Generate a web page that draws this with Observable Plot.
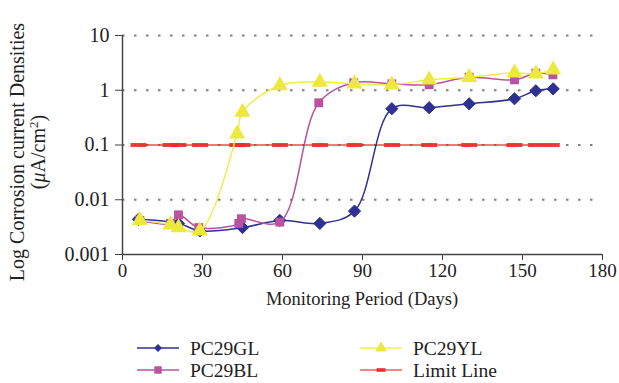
<!DOCTYPE html>
<html>
<head>
<meta charset="utf-8">
<script src="https://cdn.jsdelivr.net/npm/d3@7"></script>
<script src="https://cdn.jsdelivr.net/npm/@observablehq/plot@0.6"></script>
<style>
  body { margin: 0; background: #fff; font-family: "Liberation Serif", "DejaVu Serif", serif; }
  #wrap { position: relative; width: 619px; height: 383px; }
</style>
</head>
<body>
<div id="wrap"></div>
<script>
// ---- data ----
const glDays = [6, 21, 29, 45, 59, 74, 87, 101, 115, 130, 147, 155, 161.5];
const glVals = [0.0044, 0.0037, 0.0027, 0.0031, 0.0042, 0.0037, 0.0062, 0.46, 0.48, 0.565, 0.70, 0.98, 1.06];

const blDays = [6.5, 18, 21, 28.6, 43.6, 44.6, 59, 73.6, 86.7, 101, 115, 130, 147, 155, 161.4];
const blVals = [0.0042, 0.0037, 0.0053, 0.0031, 0.0037, 0.0045, 0.0039, 0.59, 1.37, 1.31, 1.26, 1.73, 1.55, 2.05, 1.91];

const ylDays = [6.5, 18, 21, 29, 43, 45, 59, 74, 87, 101, 115, 130, 147, 155, 161.5];
const ylVals = [0.0042, 0.0035, 0.0031, 0.0027, 0.16, 0.40, 1.22, 1.41, 1.31, 1.26, 1.55, 1.73, 2.08, 2.0, 2.36];

const limitDays = [6, 18, 21, 29, 43, 45, 59, 74, 87, 101, 115, 130, 147, 155, 161];
const limitValue = 0.1;

const seriesNames = ["PC29GL", "PC29BL", "PC29YL", "Limit Line"];
const xTicks = [0, 30, 60, 90, 120, 150, 180];
const yTicks = [0.001, 0.01, 0.1, 1, 10];
const yTickLabels = ["0.001", "0.01", "0.1", "1", "10"];
const gridValues = [0.01, 0.1, 1, 10];
const xTitle = "Monitoring Period (Days)";
const yTitle1 = "Log Corrosion current Densities";

// ---- build tables ----
const gl = glDays.map((d, i) => ({x: d, y: glVals[i]}));
const bl = blDays.map((d, i) => ({x: d, y: blVals[i]}));
const yl = ylDays.map((d, i) => ({x: d, y: ylVals[i]}));
const lim = limitDays.map(d => ({x: d, y: limitValue}));

const C = {gl: "#2E3192", bl: "#B9529F", ylLine: "#F0EC50", ylFill: "#EDE93C", red: "#EE2B2B"};

const dashSymbol = { draw(ctx, size) { ctx.rect(-8, -2, 16, 4); } };

const W = 619, H = 330;
const chart = Plot.plot({
  width: W, height: H,
  marginLeft: 122, marginRight: 17, marginTop: 35, marginBottom: H - 254,
  style: {fontFamily: "Liberation Serif, DejaVu Serif, serif", fontSize: "20px", color: "#222", background: "#fff"},
  x: {domain: [0, 180]},
  y: {type: "log", domain: [0.001, 10]},
  marks: [
    Plot.ruleY(gridValues, {stroke: "#808080", strokeWidth: 2, strokeDasharray: "2.5,9.5"}),
    Plot.ruleX([0], {stroke: "#444", strokeWidth: 1.5}),
    Plot.ruleY([0.001], {stroke: "#444", strokeWidth: 1.5}),
    Plot.axisY({ticks: yTicks, tickFormat: (d) => yTickLabels[yTicks.indexOf(d)], tickSize: 7, tickPadding: 6, label: null, stroke: "#444", fill: "#222", fontSize: 20}),
    Plot.axisX({ticks: xTicks, tickFormat: (d) => String(d), tickSize: 6, tickPadding: 3, label: null, stroke: "#444", fill: "#222", fontSize: 19}),
    Plot.line(lim, {x: "x", y: "y", stroke: C.red, strokeWidth: 1.5, strokeOpacity: 0.85}),
    Plot.dot(lim, {x: "x", y: "y", symbol: dashSymbol, fill: C.red, stroke: "none", fillOpacity: 0.9}),
    Plot.line(gl, {x: "x", y: "y", stroke: C.gl, strokeWidth: 1.5, curve: "catmull-rom"}),
    Plot.dot(gl, {x: "x", y: "y", symbol: "diamond2", r: 5.5, fill: C.gl, stroke: C.gl, strokeWidth: 1}),
    Plot.line(bl, {x: "x", y: "y", stroke: C.bl, strokeWidth: 1.5, curve: "catmull-rom"}),
    Plot.dot(bl, {x: "x", y: "y", symbol: "square", r: 5, fill: C.bl, stroke: "none"}),
    Plot.line(yl, {x: "x", y: "y", stroke: C.ylLine, strokeWidth: 1.5, curve: "catmull-rom"}),
    Plot.dot(yl, {x: "x", y: "y", symbol: "triangle", r: 6, fill: C.ylFill, stroke: "none"})
  ]
});
document.getElementById("wrap").appendChild(chart);

// titles
const svg = d3.select(chart);
svg.append("text")
  .attr("x", 362).attr("y", 305)
  .attr("text-anchor", "middle")
  .attr("font-size", 18.5).attr("fill", "#222")
  .text(xTitle);
const yt = svg.append("text")
  .attr("transform", "translate(24,152) rotate(-90)")
  .attr("text-anchor", "middle")
  .attr("font-size", 20).attr("fill", "#222");
yt.append("tspan").attr("x", 0).attr("dy", 0).text(yTitle1);
const t2 = yt.append("tspan").attr("x", 0).attr("dy", 21);
t2.append("tspan").text("(");
t2.append("tspan").attr("font-style", "italic").text("μ");
t2.append("tspan").text("A/cm");
t2.append("tspan").attr("font-size", 13).attr("dy", -7).text("2");
t2.append("tspan").attr("dy", 7).text(")");

// legend (below the chart SVG)
const legend = d3.select("#wrap").append("svg")
  .attr("width", W).attr("height", 383 - H)
  .style("display", "block")
  .style("font-family", "Liberation Serif, DejaVu Serif, serif");
const items = [
  {name: seriesNames[0], x: 137, y: 348 - H, color: C.gl, sym: d3.symbolDiamond2, size: 40},
  {name: seriesNames[1], x: 137, y: 370 - H, color: C.bl, sym: d3.symbolSquare, size: 55},
  {name: seriesNames[2], x: 360, y: 348 - H, color: C.ylLine, fill: C.ylFill, sym: d3.symbolTriangle, size: 60},
  {name: seriesNames[3], x: 360, y: 370 - H, color: C.red, sym: dashSymbol, size: 0}
];
items.forEach(it => {
  legend.append("line").attr("x1", it.x).attr("x2", it.x + 42).attr("y1", it.y).attr("y2", it.y)
    .attr("stroke", it.color).attr("stroke-width", 1.5).attr("stroke-opacity", it.sym === dashSymbol ? 0.75 : 1);
  legend.append("path")
    .attr("transform", `translate(${it.x + 21},${it.y})` + (it.sym === dashSymbol ? " scale(0.55,0.9)" : ""))
    .attr("d", d3.symbol(it.sym, it.size)())
    .attr("fill", it.fill || it.color);
  legend.append("text").attr("x", it.x + 53).attr("y", it.y + 6.5)
    .attr("font-size", 19.5).attr("fill", "#222").text(it.name);
});
</script>
</body>
</html>
